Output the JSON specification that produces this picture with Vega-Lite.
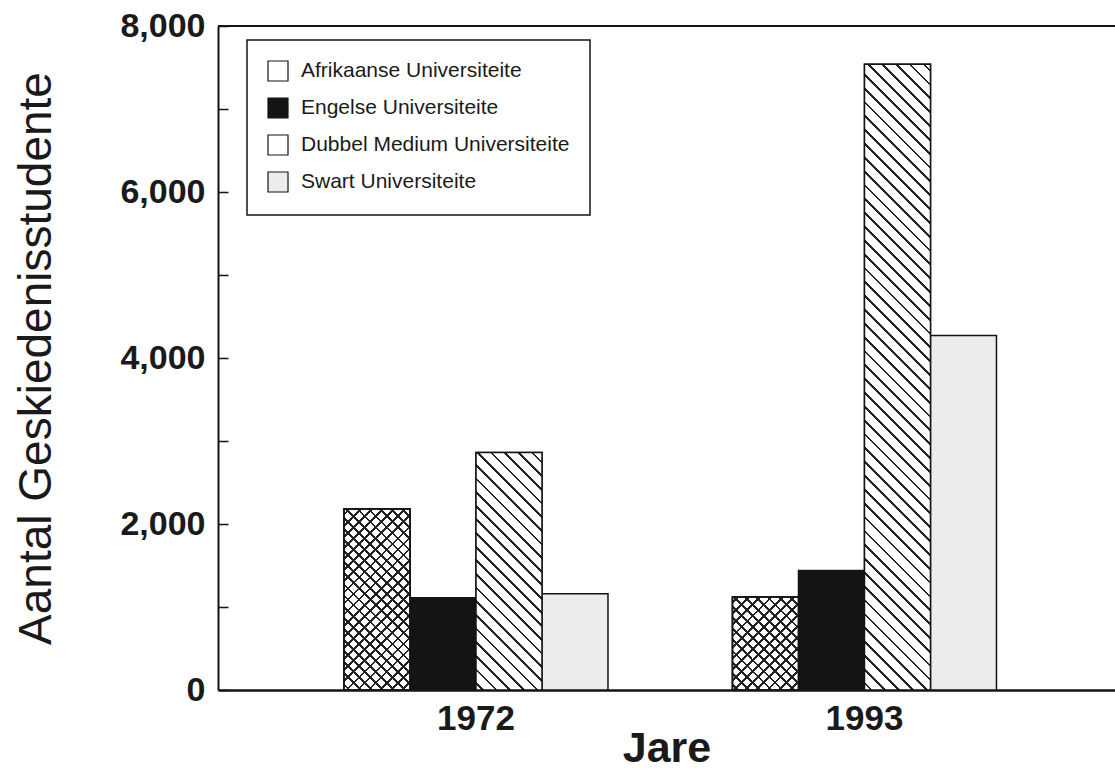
{
  "$schema": "https://vega.github.io/schema/vega-lite/v6.json",
  "width": 897,
  "height": 664,
  "autosize": {"type": "none"},
  "padding": {"left": 218, "top": 26, "right": 0, "bottom": 82},
  "background": "white",
  "config": {"view": {"stroke": null}, "font": "Liberation Sans"},
  "data": {"values": [
    {"jaar": "1972", "tipe": "Afrikaanse Universiteite", "studente": 2180},
    {"jaar": "1972", "tipe": "Engelse Universiteite", "studente": 1110},
    {"jaar": "1972", "tipe": "Dubbel Medium Universiteite", "studente": 2860},
    {"jaar": "1972", "tipe": "Swart Universiteite", "studente": 1160},
    {"jaar": "1993", "tipe": "Afrikaanse Universiteite", "studente": 1120},
    {"jaar": "1993", "tipe": "Engelse Universiteite", "studente": 1440},
    {"jaar": "1993", "tipe": "Dubbel Medium Universiteite", "studente": 7540},
    {"jaar": "1993", "tipe": "Swart Universiteite", "studente": 4270}
  ]},
  "layer": [
    {
      "mark": {"type": "bar", "stroke": "#141414", "strokeWidth": 1.5},
      "encoding": {
        "x": {"field": "jaar", "type": "nominal", "title": "Jare",
          "scale": {"paddingInner": 0.3205, "paddingOuter": 0.3147, "align": 0.5153},
          "axis": {"labelAngle": 0, "ticks": false, "domainColor": "#141414", "domainWidth": 2.5,
            "labelFontSize": 35, "labelFontWeight": "bold", "labelColor": "#1a1a1a", "labelPadding": 11,
            "titleFontSize": 43, "titleFontWeight": "bold", "titleColor": "#1a1a1a", "titlePadding": -9}},
        "xOffset": {"field": "tipe", "type": "nominal",
          "scale": {"domain": ["Afrikaanse Universiteite", "Engelse Universiteite", "Dubbel Medium Universiteite", "Swart Universiteite"], "paddingInner": 0, "paddingOuter": 0}},
        "y": {"field": "studente", "type": "quantitative", "title": "Aantal Geskiedenisstudente",
          "scale": {"domain": [0, 8000], "nice": false},
          "axis": {"values": [0, 1000, 2000, 3000, 4000, 5000, 6000, 7000, 8000],
            "labelExpr": "datum.value % 2000 === 0 ? format(datum.value, ',') : ''",
            "grid": false, "domainColor": "#141414", "domainWidth": 2, "tickColor": "#141414", "tickWidth": 1.5,
            "tickSize": -10, "labelPadding": 23, "labelFontSize": 34, "labelFontWeight": "bold", "labelColor": "#1a1a1a",
            "labelOverlap": false, "titleFontSize": 46, "titleFontWeight": "normal", "titleColor": "#1a1a1a", "titlePadding": 59}},
        "color": {"field": "tipe", "type": "nominal",
          "scale": {"domain": ["Afrikaanse Universiteite", "Engelse Universiteite", "Dubbel Medium Universiteite", "Swart Universiteite"],
            "range": ["#ffffff", "#141414", "#ffffff", "#ececec"]},
          "legend": {"orient": "none", "legendX": 29, "legendY": 14, "title": null, "symbolType": "square", "symbolSize": 400,
            "symbolStrokeColor": "#141414", "symbolStrokeWidth": 1.2, "labelFontSize": 21, "labelColor": "#1a1a1a",
            "labelOffset": 12, "rowPadding": 11, "padding": 20, "strokeColor": "#141414",
            "fillColor": "white", "labelLimit": 400,
            "encode": {"legend": {"update": {"strokeWidth": {"value": 1.5}}}}}}
      }
    },
    {
      "transform": [{"filter": "datum.tipe === 'Afrikaanse Universiteite' && datum.jaar === '1972'"}],
      "mark": {"type": "bar", "stroke": "#141414", "strokeWidth": 1.5,
        "fill": {"gradient": "linear", "x1": 0, "y1": 1, "x2": 0.4394, "y2": -0.2045, "stops": [
          {"offset":0.017,"color":"#fff"},{"offset":0.017,"color":"#222"},{"offset":0.028,"color":"#222"},{"offset":0.028,"color":"#fff"},
          {"offset":0.062,"color":"#fff"},{"offset":0.062,"color":"#222"},{"offset":0.073,"color":"#222"},{"offset":0.073,"color":"#fff"},
          {"offset":0.107,"color":"#fff"},{"offset":0.107,"color":"#222"},{"offset":0.118,"color":"#222"},{"offset":0.118,"color":"#fff"},
          {"offset":0.152,"color":"#fff"},{"offset":0.152,"color":"#222"},{"offset":0.163,"color":"#222"},{"offset":0.163,"color":"#fff"},
          {"offset":0.197,"color":"#fff"},{"offset":0.197,"color":"#222"},{"offset":0.208,"color":"#222"},{"offset":0.208,"color":"#fff"},
          {"offset":0.242,"color":"#fff"},{"offset":0.242,"color":"#222"},{"offset":0.253,"color":"#222"},{"offset":0.253,"color":"#fff"},
          {"offset":0.287,"color":"#fff"},{"offset":0.287,"color":"#222"},{"offset":0.298,"color":"#222"},{"offset":0.298,"color":"#fff"},
          {"offset":0.332,"color":"#fff"},{"offset":0.332,"color":"#222"},{"offset":0.343,"color":"#222"},{"offset":0.343,"color":"#fff"},
          {"offset":0.377,"color":"#fff"},{"offset":0.377,"color":"#222"},{"offset":0.388,"color":"#222"},{"offset":0.388,"color":"#fff"},
          {"offset":0.422,"color":"#fff"},{"offset":0.422,"color":"#222"},{"offset":0.433,"color":"#222"},{"offset":0.433,"color":"#fff"},
          {"offset":0.467,"color":"#fff"},{"offset":0.467,"color":"#222"},{"offset":0.478,"color":"#222"},{"offset":0.478,"color":"#fff"},
          {"offset":0.512,"color":"#fff"},{"offset":0.512,"color":"#222"},{"offset":0.523,"color":"#222"},{"offset":0.523,"color":"#fff"},
          {"offset":0.557,"color":"#fff"},{"offset":0.557,"color":"#222"},{"offset":0.568,"color":"#222"},{"offset":0.568,"color":"#fff"},
          {"offset":0.602,"color":"#fff"},{"offset":0.602,"color":"#222"},{"offset":0.613,"color":"#222"},{"offset":0.613,"color":"#fff"},
          {"offset":0.647,"color":"#fff"},{"offset":0.647,"color":"#222"},{"offset":0.658,"color":"#222"},{"offset":0.658,"color":"#fff"},
          {"offset":0.692,"color":"#fff"},{"offset":0.692,"color":"#222"},{"offset":0.703,"color":"#222"},{"offset":0.703,"color":"#fff"},
          {"offset":0.737,"color":"#fff"},{"offset":0.737,"color":"#222"},{"offset":0.748,"color":"#222"},{"offset":0.748,"color":"#fff"},
          {"offset":0.782,"color":"#fff"},{"offset":0.782,"color":"#222"},{"offset":0.793,"color":"#222"},{"offset":0.793,"color":"#fff"},
          {"offset":0.827,"color":"#fff"},{"offset":0.827,"color":"#222"},{"offset":0.838,"color":"#222"},{"offset":0.838,"color":"#fff"},
          {"offset":0.872,"color":"#fff"},{"offset":0.872,"color":"#222"},{"offset":0.883,"color":"#222"},{"offset":0.883,"color":"#fff"},
          {"offset":0.917,"color":"#fff"},{"offset":0.917,"color":"#222"},{"offset":0.928,"color":"#222"},{"offset":0.928,"color":"#fff"},
          {"offset":0.962,"color":"#fff"},{"offset":0.962,"color":"#222"},{"offset":0.973,"color":"#222"},{"offset":0.973,"color":"#fff"}
        ]}},
      "encoding": {
        "x": {"field": "jaar", "type": "nominal", "title": "Jare"},
        "xOffset": {"field": "tipe", "type": "nominal"},
        "y": {"field": "studente", "type": "quantitative", "title": "Aantal Geskiedenisstudente"}
      }
    },
    {
      "transform": [{"filter": "datum.tipe === 'Afrikaanse Universiteite' && datum.jaar === '1972'"}],
      "mark": {"type": "bar", "stroke": "#141414", "strokeWidth": 1.5,
        "fill": {"gradient": "linear", "x1": 0, "y1": 0, "x2": 0.4394, "y2": 1.2045, "stops": [
          {"offset":0.017,"color":"rgba(0,0,0,0)"},{"offset":0.017,"color":"#222"},{"offset":0.028,"color":"#222"},{"offset":0.028,"color":"rgba(0,0,0,0)"},
          {"offset":0.062,"color":"rgba(0,0,0,0)"},{"offset":0.062,"color":"#222"},{"offset":0.073,"color":"#222"},{"offset":0.073,"color":"rgba(0,0,0,0)"},
          {"offset":0.107,"color":"rgba(0,0,0,0)"},{"offset":0.107,"color":"#222"},{"offset":0.118,"color":"#222"},{"offset":0.118,"color":"rgba(0,0,0,0)"},
          {"offset":0.152,"color":"rgba(0,0,0,0)"},{"offset":0.152,"color":"#222"},{"offset":0.163,"color":"#222"},{"offset":0.163,"color":"rgba(0,0,0,0)"},
          {"offset":0.197,"color":"rgba(0,0,0,0)"},{"offset":0.197,"color":"#222"},{"offset":0.208,"color":"#222"},{"offset":0.208,"color":"rgba(0,0,0,0)"},
          {"offset":0.242,"color":"rgba(0,0,0,0)"},{"offset":0.242,"color":"#222"},{"offset":0.253,"color":"#222"},{"offset":0.253,"color":"rgba(0,0,0,0)"},
          {"offset":0.287,"color":"rgba(0,0,0,0)"},{"offset":0.287,"color":"#222"},{"offset":0.298,"color":"#222"},{"offset":0.298,"color":"rgba(0,0,0,0)"},
          {"offset":0.332,"color":"rgba(0,0,0,0)"},{"offset":0.332,"color":"#222"},{"offset":0.343,"color":"#222"},{"offset":0.343,"color":"rgba(0,0,0,0)"},
          {"offset":0.377,"color":"rgba(0,0,0,0)"},{"offset":0.377,"color":"#222"},{"offset":0.388,"color":"#222"},{"offset":0.388,"color":"rgba(0,0,0,0)"},
          {"offset":0.422,"color":"rgba(0,0,0,0)"},{"offset":0.422,"color":"#222"},{"offset":0.433,"color":"#222"},{"offset":0.433,"color":"rgba(0,0,0,0)"},
          {"offset":0.467,"color":"rgba(0,0,0,0)"},{"offset":0.467,"color":"#222"},{"offset":0.478,"color":"#222"},{"offset":0.478,"color":"rgba(0,0,0,0)"},
          {"offset":0.512,"color":"rgba(0,0,0,0)"},{"offset":0.512,"color":"#222"},{"offset":0.523,"color":"#222"},{"offset":0.523,"color":"rgba(0,0,0,0)"},
          {"offset":0.557,"color":"rgba(0,0,0,0)"},{"offset":0.557,"color":"#222"},{"offset":0.568,"color":"#222"},{"offset":0.568,"color":"rgba(0,0,0,0)"},
          {"offset":0.602,"color":"rgba(0,0,0,0)"},{"offset":0.602,"color":"#222"},{"offset":0.613,"color":"#222"},{"offset":0.613,"color":"rgba(0,0,0,0)"},
          {"offset":0.647,"color":"rgba(0,0,0,0)"},{"offset":0.647,"color":"#222"},{"offset":0.658,"color":"#222"},{"offset":0.658,"color":"rgba(0,0,0,0)"},
          {"offset":0.692,"color":"rgba(0,0,0,0)"},{"offset":0.692,"color":"#222"},{"offset":0.703,"color":"#222"},{"offset":0.703,"color":"rgba(0,0,0,0)"},
          {"offset":0.737,"color":"rgba(0,0,0,0)"},{"offset":0.737,"color":"#222"},{"offset":0.748,"color":"#222"},{"offset":0.748,"color":"rgba(0,0,0,0)"},
          {"offset":0.782,"color":"rgba(0,0,0,0)"},{"offset":0.782,"color":"#222"},{"offset":0.793,"color":"#222"},{"offset":0.793,"color":"rgba(0,0,0,0)"},
          {"offset":0.827,"color":"rgba(0,0,0,0)"},{"offset":0.827,"color":"#222"},{"offset":0.838,"color":"#222"},{"offset":0.838,"color":"rgba(0,0,0,0)"},
          {"offset":0.872,"color":"rgba(0,0,0,0)"},{"offset":0.872,"color":"#222"},{"offset":0.883,"color":"#222"},{"offset":0.883,"color":"rgba(0,0,0,0)"},
          {"offset":0.917,"color":"rgba(0,0,0,0)"},{"offset":0.917,"color":"#222"},{"offset":0.928,"color":"#222"},{"offset":0.928,"color":"rgba(0,0,0,0)"},
          {"offset":0.962,"color":"rgba(0,0,0,0)"},{"offset":0.962,"color":"#222"},{"offset":0.973,"color":"#222"},{"offset":0.973,"color":"rgba(0,0,0,0)"}
        ]}},
      "encoding": {
        "x": {"field": "jaar", "type": "nominal", "title": "Jare"},
        "xOffset": {"field": "tipe", "type": "nominal"},
        "y": {"field": "studente", "type": "quantitative", "title": "Aantal Geskiedenisstudente"}
      }
    },
    {
      "transform": [{"filter": "datum.tipe === 'Afrikaanse Universiteite' && datum.jaar === '1993'"}],
      "mark": {"type": "bar", "stroke": "#141414", "strokeWidth": 1.5,
        "fill": {"gradient": "linear", "x1": 0, "y1": 1, "x2": 0.8072, "y2": -0.1369, "stops": [
          {"offset":0.026,"color":"#fff"},{"offset":0.026,"color":"#222"},{"offset":0.044,"color":"#222"},{"offset":0.044,"color":"#fff"},
          {"offset":0.096,"color":"#fff"},{"offset":0.096,"color":"#222"},{"offset":0.114,"color":"#222"},{"offset":0.114,"color":"#fff"},
          {"offset":0.166,"color":"#fff"},{"offset":0.166,"color":"#222"},{"offset":0.184,"color":"#222"},{"offset":0.184,"color":"#fff"},
          {"offset":0.236,"color":"#fff"},{"offset":0.236,"color":"#222"},{"offset":0.254,"color":"#222"},{"offset":0.254,"color":"#fff"},
          {"offset":0.306,"color":"#fff"},{"offset":0.306,"color":"#222"},{"offset":0.324,"color":"#222"},{"offset":0.324,"color":"#fff"},
          {"offset":0.376,"color":"#fff"},{"offset":0.376,"color":"#222"},{"offset":0.394,"color":"#222"},{"offset":0.394,"color":"#fff"},
          {"offset":0.446,"color":"#fff"},{"offset":0.446,"color":"#222"},{"offset":0.464,"color":"#222"},{"offset":0.464,"color":"#fff"},
          {"offset":0.516,"color":"#fff"},{"offset":0.516,"color":"#222"},{"offset":0.534,"color":"#222"},{"offset":0.534,"color":"#fff"},
          {"offset":0.586,"color":"#fff"},{"offset":0.586,"color":"#222"},{"offset":0.604,"color":"#222"},{"offset":0.604,"color":"#fff"},
          {"offset":0.656,"color":"#fff"},{"offset":0.656,"color":"#222"},{"offset":0.674,"color":"#222"},{"offset":0.674,"color":"#fff"},
          {"offset":0.726,"color":"#fff"},{"offset":0.726,"color":"#222"},{"offset":0.744,"color":"#222"},{"offset":0.744,"color":"#fff"},
          {"offset":0.796,"color":"#fff"},{"offset":0.796,"color":"#222"},{"offset":0.814,"color":"#222"},{"offset":0.814,"color":"#fff"},
          {"offset":0.866,"color":"#fff"},{"offset":0.866,"color":"#222"},{"offset":0.884,"color":"#222"},{"offset":0.884,"color":"#fff"},
          {"offset":0.936,"color":"#fff"},{"offset":0.936,"color":"#222"},{"offset":0.954,"color":"#222"},{"offset":0.954,"color":"#fff"}
        ]}},
      "encoding": {
        "x": {"field": "jaar", "type": "nominal", "title": "Jare"},
        "xOffset": {"field": "tipe", "type": "nominal"},
        "y": {"field": "studente", "type": "quantitative", "title": "Aantal Geskiedenisstudente"}
      }
    },
    {
      "transform": [{"filter": "datum.tipe === 'Afrikaanse Universiteite' && datum.jaar === '1993'"}],
      "mark": {"type": "bar", "stroke": "#141414", "strokeWidth": 1.5,
        "fill": {"gradient": "linear", "x1": 0, "y1": 0, "x2": 0.8072, "y2": 1.1369, "stops": [
          {"offset":0.026,"color":"rgba(0,0,0,0)"},{"offset":0.026,"color":"#222"},{"offset":0.044,"color":"#222"},{"offset":0.044,"color":"rgba(0,0,0,0)"},
          {"offset":0.096,"color":"rgba(0,0,0,0)"},{"offset":0.096,"color":"#222"},{"offset":0.114,"color":"#222"},{"offset":0.114,"color":"rgba(0,0,0,0)"},
          {"offset":0.166,"color":"rgba(0,0,0,0)"},{"offset":0.166,"color":"#222"},{"offset":0.184,"color":"#222"},{"offset":0.184,"color":"rgba(0,0,0,0)"},
          {"offset":0.236,"color":"rgba(0,0,0,0)"},{"offset":0.236,"color":"#222"},{"offset":0.254,"color":"#222"},{"offset":0.254,"color":"rgba(0,0,0,0)"},
          {"offset":0.306,"color":"rgba(0,0,0,0)"},{"offset":0.306,"color":"#222"},{"offset":0.324,"color":"#222"},{"offset":0.324,"color":"rgba(0,0,0,0)"},
          {"offset":0.376,"color":"rgba(0,0,0,0)"},{"offset":0.376,"color":"#222"},{"offset":0.394,"color":"#222"},{"offset":0.394,"color":"rgba(0,0,0,0)"},
          {"offset":0.446,"color":"rgba(0,0,0,0)"},{"offset":0.446,"color":"#222"},{"offset":0.464,"color":"#222"},{"offset":0.464,"color":"rgba(0,0,0,0)"},
          {"offset":0.516,"color":"rgba(0,0,0,0)"},{"offset":0.516,"color":"#222"},{"offset":0.534,"color":"#222"},{"offset":0.534,"color":"rgba(0,0,0,0)"},
          {"offset":0.586,"color":"rgba(0,0,0,0)"},{"offset":0.586,"color":"#222"},{"offset":0.604,"color":"#222"},{"offset":0.604,"color":"rgba(0,0,0,0)"},
          {"offset":0.656,"color":"rgba(0,0,0,0)"},{"offset":0.656,"color":"#222"},{"offset":0.674,"color":"#222"},{"offset":0.674,"color":"rgba(0,0,0,0)"},
          {"offset":0.726,"color":"rgba(0,0,0,0)"},{"offset":0.726,"color":"#222"},{"offset":0.744,"color":"#222"},{"offset":0.744,"color":"rgba(0,0,0,0)"},
          {"offset":0.796,"color":"rgba(0,0,0,0)"},{"offset":0.796,"color":"#222"},{"offset":0.814,"color":"#222"},{"offset":0.814,"color":"rgba(0,0,0,0)"},
          {"offset":0.866,"color":"rgba(0,0,0,0)"},{"offset":0.866,"color":"#222"},{"offset":0.884,"color":"#222"},{"offset":0.884,"color":"rgba(0,0,0,0)"},
          {"offset":0.936,"color":"rgba(0,0,0,0)"},{"offset":0.936,"color":"#222"},{"offset":0.954,"color":"#222"},{"offset":0.954,"color":"rgba(0,0,0,0)"}
        ]}},
      "encoding": {
        "x": {"field": "jaar", "type": "nominal", "title": "Jare"},
        "xOffset": {"field": "tipe", "type": "nominal"},
        "y": {"field": "studente", "type": "quantitative", "title": "Aantal Geskiedenisstudente"}
      }
    },
    {
      "transform": [{"filter": "datum.tipe === 'Dubbel Medium Universiteite' && datum.jaar === '1972'"}],
      "mark": {"type": "bar", "stroke": "#141414", "strokeWidth": 1.5,
        "fill": {"gradient": "linear", "x1": 0, "y1": 1, "x2": 0.3298, "y2": -0.1863, "stops": [
          {"offset":0.018,"color":"#fff"},{"offset":0.018,"color":"#222"},{"offset":0.027,"color":"#222"},{"offset":0.027,"color":"#fff"},
          {"offset":0.063,"color":"#fff"},{"offset":0.063,"color":"#222"},{"offset":0.072,"color":"#222"},{"offset":0.072,"color":"#fff"},
          {"offset":0.108,"color":"#fff"},{"offset":0.108,"color":"#222"},{"offset":0.117,"color":"#222"},{"offset":0.117,"color":"#fff"},
          {"offset":0.153,"color":"#fff"},{"offset":0.153,"color":"#222"},{"offset":0.162,"color":"#222"},{"offset":0.162,"color":"#fff"},
          {"offset":0.198,"color":"#fff"},{"offset":0.198,"color":"#222"},{"offset":0.207,"color":"#222"},{"offset":0.207,"color":"#fff"},
          {"offset":0.243,"color":"#fff"},{"offset":0.243,"color":"#222"},{"offset":0.252,"color":"#222"},{"offset":0.252,"color":"#fff"},
          {"offset":0.288,"color":"#fff"},{"offset":0.288,"color":"#222"},{"offset":0.297,"color":"#222"},{"offset":0.297,"color":"#fff"},
          {"offset":0.333,"color":"#fff"},{"offset":0.333,"color":"#222"},{"offset":0.342,"color":"#222"},{"offset":0.342,"color":"#fff"},
          {"offset":0.378,"color":"#fff"},{"offset":0.378,"color":"#222"},{"offset":0.387,"color":"#222"},{"offset":0.387,"color":"#fff"},
          {"offset":0.423,"color":"#fff"},{"offset":0.423,"color":"#222"},{"offset":0.432,"color":"#222"},{"offset":0.432,"color":"#fff"},
          {"offset":0.468,"color":"#fff"},{"offset":0.468,"color":"#222"},{"offset":0.477,"color":"#222"},{"offset":0.477,"color":"#fff"},
          {"offset":0.513,"color":"#fff"},{"offset":0.513,"color":"#222"},{"offset":0.522,"color":"#222"},{"offset":0.522,"color":"#fff"},
          {"offset":0.558,"color":"#fff"},{"offset":0.558,"color":"#222"},{"offset":0.567,"color":"#222"},{"offset":0.567,"color":"#fff"},
          {"offset":0.603,"color":"#fff"},{"offset":0.603,"color":"#222"},{"offset":0.612,"color":"#222"},{"offset":0.612,"color":"#fff"},
          {"offset":0.648,"color":"#fff"},{"offset":0.648,"color":"#222"},{"offset":0.657,"color":"#222"},{"offset":0.657,"color":"#fff"},
          {"offset":0.693,"color":"#fff"},{"offset":0.693,"color":"#222"},{"offset":0.702,"color":"#222"},{"offset":0.702,"color":"#fff"},
          {"offset":0.738,"color":"#fff"},{"offset":0.738,"color":"#222"},{"offset":0.747,"color":"#222"},{"offset":0.747,"color":"#fff"},
          {"offset":0.783,"color":"#fff"},{"offset":0.783,"color":"#222"},{"offset":0.792,"color":"#222"},{"offset":0.792,"color":"#fff"},
          {"offset":0.828,"color":"#fff"},{"offset":0.828,"color":"#222"},{"offset":0.837,"color":"#222"},{"offset":0.837,"color":"#fff"},
          {"offset":0.873,"color":"#fff"},{"offset":0.873,"color":"#222"},{"offset":0.882,"color":"#222"},{"offset":0.882,"color":"#fff"},
          {"offset":0.918,"color":"#fff"},{"offset":0.918,"color":"#222"},{"offset":0.927,"color":"#222"},{"offset":0.927,"color":"#fff"},
          {"offset":0.963,"color":"#fff"},{"offset":0.963,"color":"#222"},{"offset":0.972,"color":"#222"},{"offset":0.972,"color":"#fff"}
        ]}},
      "encoding": {
        "x": {"field": "jaar", "type": "nominal", "title": "Jare"},
        "xOffset": {"field": "tipe", "type": "nominal"},
        "y": {"field": "studente", "type": "quantitative", "title": "Aantal Geskiedenisstudente"}
      }
    },
    {
      "transform": [{"filter": "datum.tipe === 'Dubbel Medium Universiteite' && datum.jaar === '1993'"}],
      "mark": {"type": "bar", "stroke": "#141414", "strokeWidth": 1.5,
        "fill": {"gradient": "linear", "x1": 0, "y1": 1, "x2": 0.1153, "y2": -0.0933, "stops": [
          {"offset":0.008,"color":"#fff"},{"offset":0.008,"color":"#222"},{"offset":0.012,"color":"#222"},{"offset":0.012,"color":"#fff"},
          {"offset":0.028,"color":"#fff"},{"offset":0.028,"color":"#222"},{"offset":0.032,"color":"#222"},{"offset":0.032,"color":"#fff"},
          {"offset":0.048,"color":"#fff"},{"offset":0.048,"color":"#222"},{"offset":0.052,"color":"#222"},{"offset":0.052,"color":"#fff"},
          {"offset":0.068,"color":"#fff"},{"offset":0.068,"color":"#222"},{"offset":0.072,"color":"#222"},{"offset":0.072,"color":"#fff"},
          {"offset":0.088,"color":"#fff"},{"offset":0.088,"color":"#222"},{"offset":0.092,"color":"#222"},{"offset":0.092,"color":"#fff"},
          {"offset":0.108,"color":"#fff"},{"offset":0.108,"color":"#222"},{"offset":0.112,"color":"#222"},{"offset":0.112,"color":"#fff"},
          {"offset":0.128,"color":"#fff"},{"offset":0.128,"color":"#222"},{"offset":0.132,"color":"#222"},{"offset":0.132,"color":"#fff"},
          {"offset":0.148,"color":"#fff"},{"offset":0.148,"color":"#222"},{"offset":0.152,"color":"#222"},{"offset":0.152,"color":"#fff"},
          {"offset":0.168,"color":"#fff"},{"offset":0.168,"color":"#222"},{"offset":0.172,"color":"#222"},{"offset":0.172,"color":"#fff"},
          {"offset":0.188,"color":"#fff"},{"offset":0.188,"color":"#222"},{"offset":0.192,"color":"#222"},{"offset":0.192,"color":"#fff"},
          {"offset":0.208,"color":"#fff"},{"offset":0.208,"color":"#222"},{"offset":0.212,"color":"#222"},{"offset":0.212,"color":"#fff"},
          {"offset":0.228,"color":"#fff"},{"offset":0.228,"color":"#222"},{"offset":0.232,"color":"#222"},{"offset":0.232,"color":"#fff"},
          {"offset":0.248,"color":"#fff"},{"offset":0.248,"color":"#222"},{"offset":0.252,"color":"#222"},{"offset":0.252,"color":"#fff"},
          {"offset":0.268,"color":"#fff"},{"offset":0.268,"color":"#222"},{"offset":0.272,"color":"#222"},{"offset":0.272,"color":"#fff"},
          {"offset":0.288,"color":"#fff"},{"offset":0.288,"color":"#222"},{"offset":0.292,"color":"#222"},{"offset":0.292,"color":"#fff"},
          {"offset":0.308,"color":"#fff"},{"offset":0.308,"color":"#222"},{"offset":0.312,"color":"#222"},{"offset":0.312,"color":"#fff"},
          {"offset":0.328,"color":"#fff"},{"offset":0.328,"color":"#222"},{"offset":0.332,"color":"#222"},{"offset":0.332,"color":"#fff"},
          {"offset":0.348,"color":"#fff"},{"offset":0.348,"color":"#222"},{"offset":0.352,"color":"#222"},{"offset":0.352,"color":"#fff"},
          {"offset":0.368,"color":"#fff"},{"offset":0.368,"color":"#222"},{"offset":0.372,"color":"#222"},{"offset":0.372,"color":"#fff"},
          {"offset":0.388,"color":"#fff"},{"offset":0.388,"color":"#222"},{"offset":0.392,"color":"#222"},{"offset":0.392,"color":"#fff"},
          {"offset":0.408,"color":"#fff"},{"offset":0.408,"color":"#222"},{"offset":0.412,"color":"#222"},{"offset":0.412,"color":"#fff"},
          {"offset":0.428,"color":"#fff"},{"offset":0.428,"color":"#222"},{"offset":0.432,"color":"#222"},{"offset":0.432,"color":"#fff"},
          {"offset":0.448,"color":"#fff"},{"offset":0.448,"color":"#222"},{"offset":0.452,"color":"#222"},{"offset":0.452,"color":"#fff"},
          {"offset":0.468,"color":"#fff"},{"offset":0.468,"color":"#222"},{"offset":0.472,"color":"#222"},{"offset":0.472,"color":"#fff"},
          {"offset":0.488,"color":"#fff"},{"offset":0.488,"color":"#222"},{"offset":0.492,"color":"#222"},{"offset":0.492,"color":"#fff"},
          {"offset":0.508,"color":"#fff"},{"offset":0.508,"color":"#222"},{"offset":0.512,"color":"#222"},{"offset":0.512,"color":"#fff"},
          {"offset":0.528,"color":"#fff"},{"offset":0.528,"color":"#222"},{"offset":0.532,"color":"#222"},{"offset":0.532,"color":"#fff"},
          {"offset":0.548,"color":"#fff"},{"offset":0.548,"color":"#222"},{"offset":0.552,"color":"#222"},{"offset":0.552,"color":"#fff"},
          {"offset":0.568,"color":"#fff"},{"offset":0.568,"color":"#222"},{"offset":0.572,"color":"#222"},{"offset":0.572,"color":"#fff"},
          {"offset":0.588,"color":"#fff"},{"offset":0.588,"color":"#222"},{"offset":0.592,"color":"#222"},{"offset":0.592,"color":"#fff"},
          {"offset":0.608,"color":"#fff"},{"offset":0.608,"color":"#222"},{"offset":0.612,"color":"#222"},{"offset":0.612,"color":"#fff"},
          {"offset":0.628,"color":"#fff"},{"offset":0.628,"color":"#222"},{"offset":0.632,"color":"#222"},{"offset":0.632,"color":"#fff"},
          {"offset":0.648,"color":"#fff"},{"offset":0.648,"color":"#222"},{"offset":0.652,"color":"#222"},{"offset":0.652,"color":"#fff"},
          {"offset":0.668,"color":"#fff"},{"offset":0.668,"color":"#222"},{"offset":0.672,"color":"#222"},{"offset":0.672,"color":"#fff"},
          {"offset":0.688,"color":"#fff"},{"offset":0.688,"color":"#222"},{"offset":0.692,"color":"#222"},{"offset":0.692,"color":"#fff"},
          {"offset":0.708,"color":"#fff"},{"offset":0.708,"color":"#222"},{"offset":0.712,"color":"#222"},{"offset":0.712,"color":"#fff"},
          {"offset":0.728,"color":"#fff"},{"offset":0.728,"color":"#222"},{"offset":0.732,"color":"#222"},{"offset":0.732,"color":"#fff"},
          {"offset":0.748,"color":"#fff"},{"offset":0.748,"color":"#222"},{"offset":0.752,"color":"#222"},{"offset":0.752,"color":"#fff"},
          {"offset":0.768,"color":"#fff"},{"offset":0.768,"color":"#222"},{"offset":0.772,"color":"#222"},{"offset":0.772,"color":"#fff"},
          {"offset":0.788,"color":"#fff"},{"offset":0.788,"color":"#222"},{"offset":0.792,"color":"#222"},{"offset":0.792,"color":"#fff"},
          {"offset":0.808,"color":"#fff"},{"offset":0.808,"color":"#222"},{"offset":0.812,"color":"#222"},{"offset":0.812,"color":"#fff"},
          {"offset":0.828,"color":"#fff"},{"offset":0.828,"color":"#222"},{"offset":0.832,"color":"#222"},{"offset":0.832,"color":"#fff"},
          {"offset":0.848,"color":"#fff"},{"offset":0.848,"color":"#222"},{"offset":0.852,"color":"#222"},{"offset":0.852,"color":"#fff"},
          {"offset":0.868,"color":"#fff"},{"offset":0.868,"color":"#222"},{"offset":0.872,"color":"#222"},{"offset":0.872,"color":"#fff"},
          {"offset":0.888,"color":"#fff"},{"offset":0.888,"color":"#222"},{"offset":0.892,"color":"#222"},{"offset":0.892,"color":"#fff"},
          {"offset":0.908,"color":"#fff"},{"offset":0.908,"color":"#222"},{"offset":0.912,"color":"#222"},{"offset":0.912,"color":"#fff"},
          {"offset":0.928,"color":"#fff"},{"offset":0.928,"color":"#222"},{"offset":0.932,"color":"#222"},{"offset":0.932,"color":"#fff"},
          {"offset":0.948,"color":"#fff"},{"offset":0.948,"color":"#222"},{"offset":0.952,"color":"#222"},{"offset":0.952,"color":"#fff"},
          {"offset":0.968,"color":"#fff"},{"offset":0.968,"color":"#222"},{"offset":0.972,"color":"#222"},{"offset":0.972,"color":"#fff"},
          {"offset":0.988,"color":"#fff"},{"offset":0.988,"color":"#222"},{"offset":0.992,"color":"#222"},{"offset":0.992,"color":"#fff"}
        ]}},
      "encoding": {
        "x": {"field": "jaar", "type": "nominal", "title": "Jare"},
        "xOffset": {"field": "tipe", "type": "nominal"},
        "y": {"field": "studente", "type": "quantitative", "title": "Aantal Geskiedenisstudente"}
      }
    },
    {
      "mark": {"type": "rule", "color": "#141414", "strokeWidth": 2},
      "encoding": {"y": {"datum": 8000, "title": "Aantal Geskiedenisstudente"}}
    }
  ]
}
